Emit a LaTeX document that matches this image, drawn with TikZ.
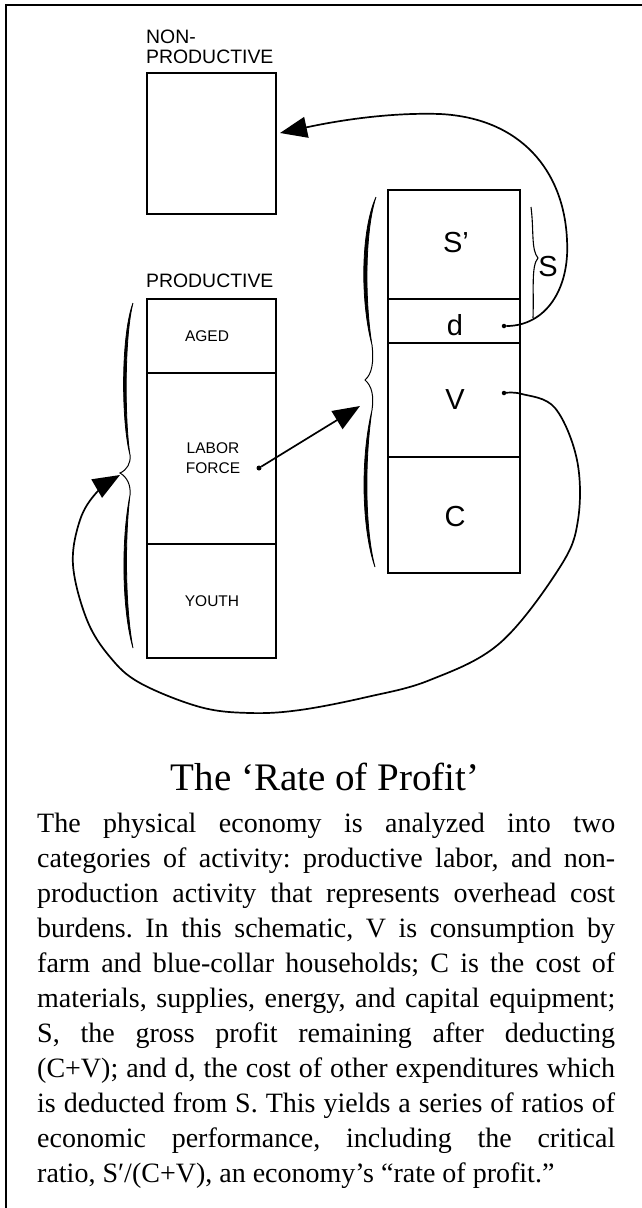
\documentclass[tikz,border=0pt]{standalone}
\usepackage{fontspec}
\setmainfont{Liberation Serif}
\setsansfont{Liberation Sans}
\usetikzlibrary{arrows.meta}
\frenchspacing
\tikzset{
  frameline/.style={line width=2pt},
  boxst/.style={draw, line width=2.3pt, inner sep=0, minimum width=129pt},
  colst/.style={draw, line width=2.1pt, inner sep=0, minimum width=132pt},
  hdr/.style={font=\sffamily\fontsize{19.4}{20}\selectfont, inner sep=0},
  small/.style={font=\sffamily\fontsize{15.5}{20}\selectfont, inner sep=0, align=center},
  big/.style={font=\sffamily\fontsize{29}{32}\selectfont, inner sep=0},
  conn/.style={line width=1.7pt},
  tipst/.style={-{Triangle[length=27pt,width=21pt]}},
  dotst/.style={circle, fill, inner sep=0, minimum size=5pt},
  bracefill/.style={fill=black, draw=black, line width=0.8pt},
  braceline/.style={line width=1pt}
}
\newcommand{\jline}[1]{\makebox[578pt][s]{#1}\\}
\begin{document}
\begin{tikzpicture}[x=1pt,y=-1pt]
\useasboundingbox (0,0) rectangle (642,1208);
% frame
\draw[frameline] (6,1208) -- (6,5) -- (642,5);

% non-productive
\node[hdr, anchor=west] (nonA) at (146,36.5) {NON-};
\node[hdr, anchor=west] (nonB) at (146,56.5) {PRODUCTIVE};
\node[boxst, minimum height=141pt] (np) at (211.5,143.5) {};
\coordinate (npTip) at (280,133);

% productive column
\node[hdr, anchor=west] (prodlbl) at (146,281) {PRODUCTIVE};
\node[boxst, minimum height=74pt] (aged) at (211.5,336) {};
\node[boxst, minimum height=171pt] (labor) at (211.5,458.5) {};
\node[boxst, minimum height=114pt] (youth) at (211.5,601) {};
\node[small] (agedlbl) at (207,336) {AGED};
\node[small] (laborlbl) at (213,458) {LABOR\\FORCE};
\node[small] (youthlbl) at (212,601) {YOUTH};
\node[dotst] (LFdot) at (259,468) {};

% right column
\node[colst, minimum height=109pt] (Sp) at (454,244.5) {};
\node[colst, minimum height=44pt] (dbox) at (454,321) {};
\node[colst, minimum height=114pt] (Vbox) at (454,400) {};
\node[colst, minimum height=116pt] (Cbox) at (454,515) {};
\node[big] (Splbl) at (456,243) {S’};
\node[big] (dlbl) at (455,325) {d};
\node[big] (Vlbl) at (455,400) {V};
\node[big] (Clbl) at (455,517) {C};
\node[big] (Slbl) at (548,267) {S};
\node[dotst, minimum size=4.5pt] (ddot) at (504,326) {};
\node[dotst, minimum size=4.5pt] (Vdot) at (504,393) {};
\coordinate (colTip) at (360,406);
\coordinate (prodTip) at (120,475);

% braces
\filldraw[bracefill] (133,303) .. controls (121,335) and (121,420) .. (130,455)
   .. controls (124.5,420) and (124.5,335) .. (133,303);
\draw[braceline] (130,455) .. controls (131,463) and (127,470) .. (120,473)
   .. controls (127,477) and (131,485) .. (130,495);
\filldraw[bracefill] (130,495) .. controls (121,540) and (122,610) .. (133,648)
   .. controls (125.5,610) and (124.5,540) .. (130,495);

\filldraw[bracefill] (376,197) .. controls (361,230) and (360,300) .. (372,345)
   .. controls (364.5,300) and (365,230) .. (376,197);
\draw[braceline] (372,345) .. controls (374,362) and (372,374) .. (365,380)
   .. controls (372,386) and (374,396) .. (372,410);
\filldraw[bracefill] (372,410) .. controls (360,460) and (362,530) .. (375,567)
   .. controls (365,530) and (364.5,460) .. (372,410);

\draw[braceline, line width=1.1pt] (531,207) .. controls (534,230) and (531,250) .. (538,258)
   .. controls (531,266) and (534,290) .. (533,318);

% connectors
\draw[conn, tipst] (LFdot) -- (colTip);
\draw[conn, tipst] (ddot) .. controls (545,326) and (570,290) .. (567,240)
   .. controls (564,170) and (520,118) .. (440,114)
   .. controls (380,112) and (322,124) .. (npTip);
\draw[conn, tipst] plot[smooth, tension=0.6] coordinates {(Vdot) (522,394) (555,408) (577,460) (578,520) (560,567) (500,643) (430,680) (367,697) (300,710) (250,713) (200,707) (140,683) (110,657) (87,620) (73,565) (80,520) (97,492) (prodTip)};

% caption
\node[font=\fontsize{39}{44}\selectfont, anchor=base, inner sep=0] (title) at (325,790) {The ‘Rate of Profit’};
\node[anchor=north west, inner sep=0, text width=578pt, align=justify,
      font=\fontsize{28}{35}\selectfont] (body) at (37,813) {%
\jline{The physical economy is analyzed into two}
\jline{categories of activity: productive labor, and non-}
\jline{production activity that represents overhead cost}
\jline{burdens. In this schematic, V is consumption by}
\jline{farm and blue-collar households; C is the cost of}
\jline{materials, supplies, energy, and capital equipment;}
\jline{S, the gross profit remaining after deducting}
\jline{(C+V); and d, the cost of other expenditures which}
\jline{is deducted from S. This yields a series of ratios of}
\jline{economic performance, including the critical}
ratio, S′/(C+V), an economy’s “rate of profit.”};
\end{tikzpicture}
\end{document}
